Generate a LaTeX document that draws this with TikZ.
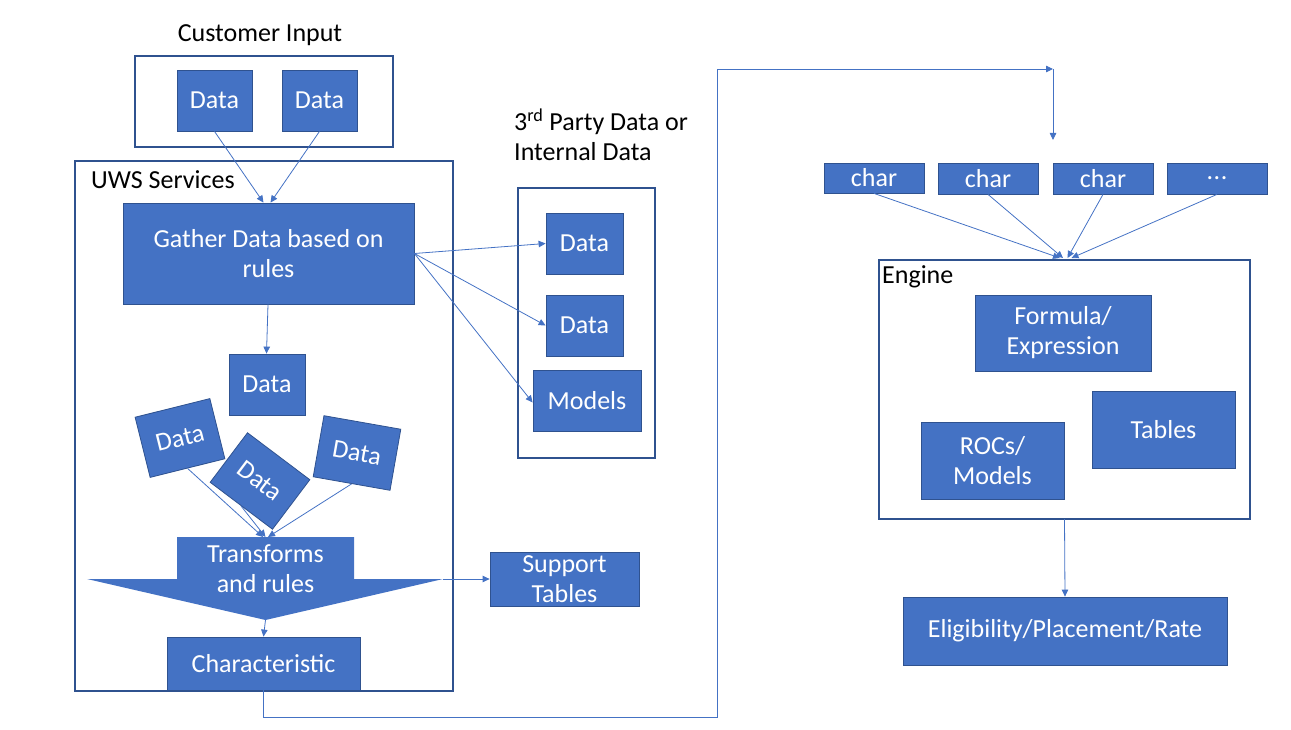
\documentclass[tikz,border=0pt]{standalone}
\usepackage{fontspec}
\setmainfont{Carlito}
\usetikzlibrary{arrows.meta}
\definecolor{fillblue}{HTML}{4472C4}
\definecolor{edgeblue}{HTML}{2F528F}
\definecolor{lineblue}{HTML}{4472C4}
\tikzset{
  fbox/.style={draw=edgeblue, line width=0.8pt, fill=fillblue, text=white, inner sep=0pt, align=center,
     font=\fontsize{26}{30}\selectfont},
  cont/.style={draw=edgeblue, line width=2.8pt, fill=none},
  lbl/.style={text=black, inner sep=0pt, font=\fontsize{26}{30}\selectfont},
  arr/.style={draw=lineblue, line width=0.8pt, -{Triangle[length=7pt,width=6.5pt]}},
  plain/.style={draw=lineblue, line width=0.8pt}
}
\begin{document}
\begin{tikzpicture}[x=1pt,y=-1pt]
\useasboundingbox (0,0) rectangle (1291,730);
% containers
\draw[cont] (135,56) rectangle (393,147);
\draw[cont] (75,161) rectangle (453,691);
\draw[cont] (518,188) rectangle (655,458);
\draw[cont] (879,260) rectangle (1250,519);
% labels
\node[lbl] (lci) at (260,35) {Customer Input};
\node[lbl, anchor=west] (luws) at (91,180) {UWS Services};
\node[lbl, anchor=west, align=left] (l3p) at (514,135) {3\textsuperscript{rd} Party Data or\\Internal Data};
\node[lbl, anchor=west] (leng) at (882,277) {Engine};
% customer input
\node[fbox, minimum width=75, minimum height=61] (ci1) at (214.5,100.5) {Data};
\node[fbox, minimum width=75, minimum height=61] (ci2) at (319.5,100.5) {Data};
% UWS
\node[fbox, minimum width=291, minimum height=101] (gather) at (268.5,253.5) {Gather Data based on\\rules};
\node[fbox, minimum width=76, minimum height=61] (dmid) at (267,384.5) {Data};
\node[fbox, minimum width=77, minimum height=62, rotate=14] (dl) at (180,438) {Data};
\node[fbox, minimum width=78, minimum height=62, rotate=-37] (dc) at (260,481) {Data};
\node[fbox, minimum width=78, minimum height=62, rotate=-10] (dr) at (357,453) {Data};
% transforms arrow shape
\coordinate (ttop) at (265.5,537);
\coordinate (ttip) at (265.5,620);
\coordinate (tright) at (443,579);
\fill[fillblue] (177,537) -- (354,537) -- (354,579) -- (tright) -- (ttip) -- (87,579) -- (177,579) -- cycle;
\node[text=white, inner sep=0pt, align=center, font=\fontsize{26}{30}\selectfont] (trans) at (265.5,569) {Transforms\\and rules};
\node[fbox, minimum width=193, minimum height=53] (charx) at (263.5,663.5) {Characteristic};
\node[fbox, minimum width=149, minimum height=54] (supp) at (564.5,579) {Support\\Tables};
% third party
\node[fbox, minimum width=77, minimum height=61] (tp1) at (584.5,243.5) {Data};
\node[fbox, minimum width=77, minimum height=61] (tp2) at (584.5,325.5) {Data};
\node[fbox, minimum width=108, minimum height=61] (tpm) at (587,400.5) {Models};
% chars
\node[fbox, minimum width=100, minimum height=30] (c1) at (874,178) {char};
\node[fbox, minimum width=100, minimum height=31] (c2) at (988,178.5) {char};
\node[fbox, minimum width=100, minimum height=31] (c3) at (1103,178.5) {char};
\node[fbox, minimum width=100, minimum height=31] (c4) at (1217,178.5) {.\kern0.5pt.\kern0.5pt.};
% engine
\node[fbox, minimum width=176, minimum height=76] (form) at (1063,333) {Formula/\\Expression};
\node[fbox, minimum width=143, minimum height=77] (rocs) at (992.5,460.5) {ROCs/\\Models};
\node[fbox, minimum width=143, minimum height=77] (tabs) at (1163.5,429.5) {Tables};
\node[fbox, minimum width=324, minimum height=68] (elig) at (1065,631) {Eligibility/Placement/Rate};
% connectors
\draw[arr] (ci1.south) -- ([xshift=-5]gather.north);
\draw[arr] (ci2.south) -- ([xshift=2]gather.north);
\draw[arr] ([xshift=-0.5]gather.south) -- ([xshift=-0.5]dmid.north);
\draw[arr] (gather.east) -- (tp1.west);
\draw[arr] (gather.east) -- (tp2.west);
\draw[arr] (gather.east) -- ([yshift=-2]tpm.west);
\draw[arr] (dl.south) -- ([xshift=-2.5]ttop);
\draw[arr] (dc.south) -- (ttop);
\draw[arr] (dr.south) -- ([xshift=2.5]ttop);
\draw[arr] (ttip) -- (charx.north);
\draw[arr] (tright) -- (supp.west);
\coordinate (corner) at (717,717);
\coordinate (topend) at (1053,69);
\coordinate (downend) at (1053,140);
\draw[arr] (charx.south) |- (corner) |- (topend);
\draw[arr] (topend) -- (downend);
\draw[arr] (c1.south) -- ([xshift=-4.5]1064.5,258);
\draw[arr] (c2.south) -- ([xshift=-1.5]1064.5,258);
\draw[arr] (c3.south) -- ([xshift=3]1064.5,258);
\draw[arr] (c4.south) -- ([xshift=7]1064.5,258);
\draw[arr] (1064.5,519) -- (elig.north);
\end{tikzpicture}
\end{document}
